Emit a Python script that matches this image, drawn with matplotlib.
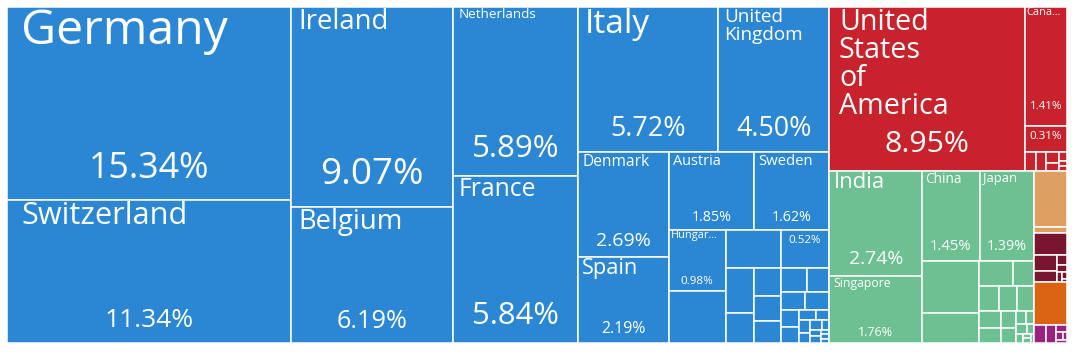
import matplotlib.pyplot as plt
from matplotlib.patches import Rectangle

# values are shares of the total (%), names: None = no label, "" = share only
europe_values = [15.34, 11.34, 9.07, 6.19, 5.89, 5.84, 5.72, 4.50, 2.69, 2.19,
                 1.85, 1.62, 0.98, 0.82, 0.60, 0.52, 0.35, 0.24, 0.21, 0.19,
                 0.17, 0.17, 0.15, 0.12, 0.12, 0.09, 0.08, 0.05, 0.04, 0.04,
                 0.03, 0.03, 0.02, 0.02, 0.02, 0.01, 0.01, 0.01]
europe_names = ["Germany", "Switzerland", "Ireland", "Belgium", "Netherlands",
                "France", "Italy", "United Kingdom", "Denmark", "Spain",
                "Austria", "Sweden", "Hungary", None, None, ""]

america_values = [8.95, 1.41, 0.31, 0.06, 0.05, 0.04, 0.03, 0.02, 0.01, 0.01]
america_names = ["United States of America", "Canada", ""]

asia_values = [2.74, 1.76, 1.45, 1.39, 0.83, 0.47, 0.24, 0.15, 0.14, 0.12,
               0.12, 0.11, 0.09, 0.07, 0.06, 0.04, 0.03, 0.03, 0.02, 0.02,
               0.01, 0.01, 0.01]
asia_names = ["India", "Singapore", "China", "Japan"]

oceania_values = [0.52, 0.05]
south_america_values = [0.20, 0.10, 0.07, 0.03, 0.02, 0.015, 0.01, 0.005]
africa_values = [0.39]
other_values = [0.06, 0.05, 0.02, 0.015, 0.01, 0.01]

groups = [
    ("#2B87D4", europe_names, europe_values),
    ("#C8232C", america_names, america_values),
    ("#6CC091", asia_names, asia_values),
    ("#DDA062", [], oceania_values),
    ("#7A1530", [], south_america_values),
    ("#DA6414", [], africa_values),
    ("#9B2181", [], other_values),
]

DPI = 100
W, H = 1060, 336
FONT = "Open Sans"


def worst(row, side):
    s = sum(row)
    return max(max(side * side * r / (s * s), (s * s) / (side * side * r)) for r in row)


def squarify(areas, x, y, w, h):
    rects = []
    vals = list(areas)
    while vals:
        side = min(w, h)
        row = [vals[0]]
        i = 1
        while i < len(vals) and worst(row + [vals[i]], side) <= worst(row, side):
            row.append(vals[i])
            i += 1
        s = sum(row)
        if w >= h:
            cw = s / h
            yy = y
            for v in row:
                rects.append((x, yy, cw, v / cw))
                yy += v / cw
            x += cw
            w -= cw
        else:
            rh = s / w
            xx = x
            for v in row:
                rects.append((xx, y, v / rh, rh))
                xx += v / rh
            y += rh
            h -= rh
        vals = vals[i:]
    return rects


def px(size):
    return size * 72 / DPI


fig = plt.figure(figsize=(10.8, 3.52), dpi=DPI)
ax = fig.add_axes([7 / 1080, 9 / 352, W / 1080, H / 352])
ax.set_xlim(0, W)
ax.set_ylim(H, 0)
ax.axis('off')
renderer = fig.canvas.get_renderer()

total = sum(sum(g[2]) for g in groups)
scale = W * H / total
groups = sorted(groups, key=lambda g: -sum(g[2]))
group_rects = squarify([sum(g[2]) * scale for g in groups], 0, 0, W, H)

for (color, names, values), (gx, gy, gw, gh) in zip(groups, group_rects):
    names = list(names) + [None] * (len(values) - len(names))
    leaves = squarify([v * scale for v in values], gx, gy, gw, gh)
    for name, v, (x, y, w, h) in zip(names, values, leaves):
        ax.add_patch(Rectangle((x, y), w, h, facecolor=color,
                               edgecolor='white', linewidth=1.1))
        if name is None:
            continue
        pct = f"{v:.2f}%"
        if name == "":
            ax.text(x + w / 2, y + 5, pct, ha='center', va='top', color='white',
                    fontsize=px(11.5), family=FONT)
            continue
        # name label: one line or one word per line, whichever gives larger text
        options = [[name]]
        if ' ' in name:
            options.append(name.split())
        fs, lines = 0, None
        for opt in options:
            size = min(1.19 * w / max(len(l) for l in opt), 0.7 * h / len(opt))
            if size > fs:
                fs, lines = size, opt
        pad = max(3, 0.05 * w)
        if fs < 11:
            # too small for the full name: shorten with an ellipsis
            fs = 11
            pad = 2
            label = name[:-1]
            t = ax.text(x + pad, y, label + "...", ha='left', va='top',
                        color='white', fontsize=px(fs), family=FONT)
            while t.get_window_extent(renderer).width > w - 2 and len(label) > 1:
                label = label[:-1]
                t.set_text(label + "...")
        else:
            ax.text(x + pad, y + 2 - 0.04 * fs, "\n".join(lines), ha='left',
                    va='top', color='white', fontsize=px(fs), family=FONT,
                    linespacing=0.95)
        pfs = max(11.5, min(0.185 * h, 0.26 * w))
        ax.text(x + w / 2, y + 0.84 * h, pct, ha='center', va='center',
                color='white', fontsize=px(pfs), family=FONT)

fig.savefig('out.png', dpi=DPI)
